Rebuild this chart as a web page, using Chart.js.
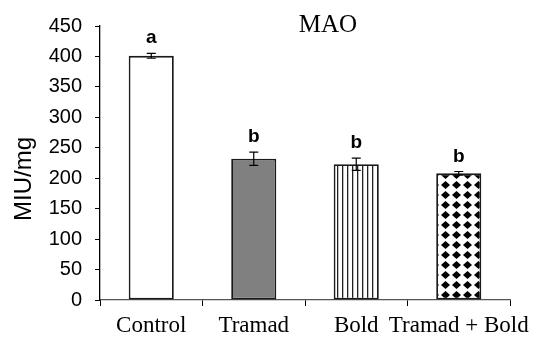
<!DOCTYPE html>
<html>
<head>
<meta charset="utf-8">
<script src="https://cdn.jsdelivr.net/npm/chart.js@4"></script>
<style>
  html, body { margin: 0; padding: 0; background: #fff; }
</style>
</head>
<body>
<canvas id="chart" width="557" height="338"></canvas>
<script>
// data
const groups = ['Control', 'Tramad', 'Bold', 'Tramad + Bold']
const means = [401, 232, 223, 208]
const errors = [4, 11, 10, 3]
const letters = ['a', 'b', 'b', 'b']

/* fill patterns */
const makePattern = (w, h, draw) => {
  const c = document.createElement('canvas')
  c.width = w
  c.height = h
  const g = c.getContext('2d')
  g.fillStyle = '#fff'
  g.fillRect(0, 0, w, h)
  draw(g)
  return c.getContext('2d').createPattern(c, 'repeat')
}
const stripes = makePattern(5, 5, (g) => {
  g.fillStyle = '#222'
  g.fillRect(2, 0, 1.3, 5)
})
const diamonds = makePattern(11, 10, (g) => {
  g.fillStyle = '#000'
  g.beginPath()
  g.moveTo(5.5, 1)
  g.lineTo(10, 5)
  g.lineTo(5.5, 9)
  g.lineTo(1, 5)
  g.closePath()
  g.fill()
})

const errorBars = {
  id: 'errorBars',
  afterDatasetsDraw (chart) {
    const { ctx, scales: { x, y } } = chart
    ctx.save()
    ctx.strokeStyle = '#000'
    ctx.lineWidth = 1.2
    means.forEach((m, i) => {
      const cx = x.getPixelForValue(i)
      const top = y.getPixelForValue(m + errors[i])
      const bot = y.getPixelForValue(m - errors[i])
      ctx.beginPath()
      ctx.moveTo(cx, top); ctx.lineTo(cx, bot)
      ctx.moveTo(cx - 4.5, top); ctx.lineTo(cx + 4.5, top)
      ctx.moveTo(cx - 4.5, bot); ctx.lineTo(cx + 4.5, bot)
      ctx.stroke()
      ctx.fillStyle = '#000'
      ctx.font = 'bold 19px "Liberation Sans", Arial'
      ctx.textAlign = 'center'
      ctx.textBaseline = 'alphabetic'
      ctx.fillText(letters[i], cx, top - 10)
    })
    ctx.restore()
  }
}

const extraText = {
  id: 'extraText',
  afterDraw (chart) {
    const { ctx } = chart
    ctx.save()
    ctx.fillStyle = '#000'
    ctx.font = '25px "Liberation Serif", "Times New Roman"'
    ctx.textAlign = 'center'
    ctx.textBaseline = 'alphabetic'
    ctx.fillText('MAO', 328, 32)
    ctx.translate(31, 179)
    ctx.rotate(-Math.PI / 2)
    ctx.font = '24px "Liberation Sans", Arial'
    ctx.fillText('MIU/mg', 0, 0)
    ctx.restore()
  }
}

new Chart(document.getElementById('chart'), {
  type: 'bar',
  data: {
    labels: groups,
    datasets: [{
      data: means,
      backgroundColor: ['#ffffff', '#808080', stripes, diamonds],
      borderColor: '#1a1a1a',
      borderWidth: 1.8,
      borderSkipped: false,
      categoryPercentage: 1,
      barPercentage: 0.44
    }]
  },
  options: {
    responsive: false,
    devicePixelRatio: 1,
    animation: false,
    layout: { padding: { top: 26, right: 47, bottom: 0, left: 0 } },
    plugins: { legend: { display: false }, tooltip: { enabled: false } },
    scales: {
      x: {
        grid: { display: true, drawOnChartArea: false, tickLength: 6, color: '#000', offset: true },
        border: { color: '#555', width: 1.3 },
        ticks: {
          color: '#000',
          padding: 6,
          maxRotation: 0,
          minRotation: 0,
          autoSkip: false,
          font: { family: '"Liberation Serif", "Times New Roman"', size: 23 }
        },
        afterFit: (s) => { s.height = 38 }
      },
      y: {
        min: 0,
        max: 450,
        grid: { display: true, drawOnChartArea: false, tickLength: 5, color: '#000' },
        border: { color: '#000', width: 1.3 },
        ticks: { stepSize: 50, color: '#000', padding: 13, font: { family: '"Liberation Sans", Arial', size: 20 } },
        afterFit: (s) => { s.width = 100 }
      }
    }
  },
  plugins: [errorBars, extraText]
})
</script>
</body>
</html>
